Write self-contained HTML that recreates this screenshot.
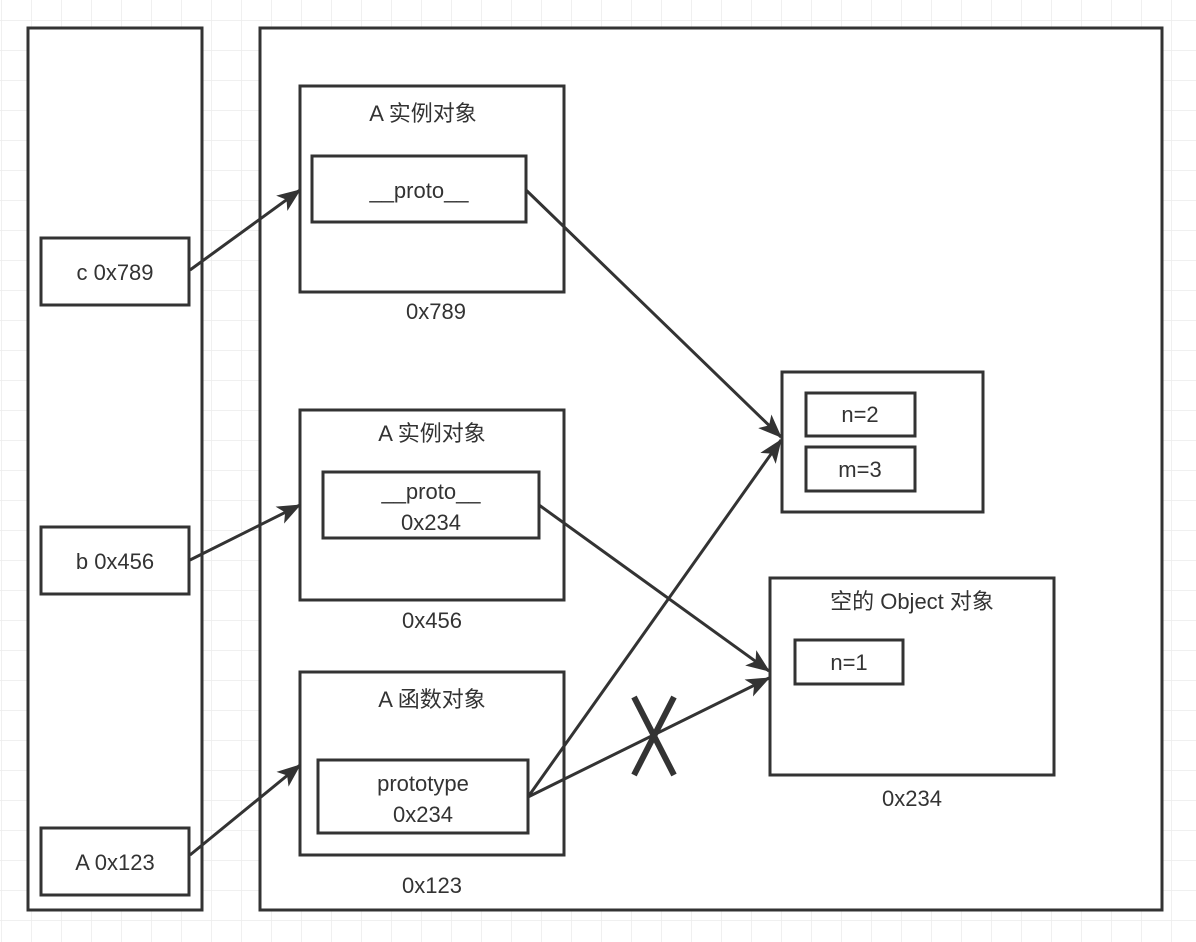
<!DOCTYPE html>
<html><head><meta charset="utf-8"><style>
html,body{margin:0;padding:0;background:#fff;}
svg{display:block;}
text{font-family:"Liberation Sans","Noto Sans CJK SC",sans-serif;font-size:22px;fill:#333;text-anchor:middle;}
</style></head><body>
<svg width="1196" height="942" viewBox="0 0 1196 942" xmlns="http://www.w3.org/2000/svg">
<defs>
<pattern id="g" x="1" y="20" width="30" height="30" patternUnits="userSpaceOnUse">
<path d="M0 0H30M0 0V30" stroke="#ececec" stroke-width="1.5" fill="none"/>
</pattern>
<marker id="a" markerWidth="10" markerHeight="10" refX="9" refY="5" orient="auto" markerUnits="userSpaceOnUse" viewBox="0 0 10 10">
</marker>
<marker id="ar" viewBox="0 0 20 16" refX="19" refY="8" markerWidth="24" markerHeight="19" orient="auto" markerUnits="userSpaceOnUse">
<path d="M0 0L20 8L0 16L5 8Z" fill="#333"/>
</marker>
</defs>
<rect width="1196" height="942" fill="#fff"/>
<rect width="1196" height="942" fill="url(#g)"/>
<g fill="#fff" stroke="#333" stroke-width="3">
<rect x="28" y="28" width="174" height="882"/>
<rect x="260" y="28" width="902" height="882"/>
<rect x="41" y="238" width="148" height="67"/>
<rect x="41" y="527" width="148" height="67"/>
<rect x="41" y="828" width="148" height="67"/>
<rect x="300" y="86" width="264" height="206"/>
<rect x="312" y="156" width="214" height="66"/>
<rect x="300" y="410" width="264" height="190"/>
<rect x="323" y="472" width="216" height="66"/>
<rect x="300" y="672" width="264" height="183"/>
<rect x="318" y="760" width="210" height="73"/>
<rect x="782" y="372" width="201" height="140"/>
<rect x="806" y="393" width="109" height="43"/>
<rect x="806" y="447" width="109" height="44"/>
<rect x="770" y="578" width="284" height="197"/>
<rect x="795" y="640" width="108" height="44"/>
</g>
<g stroke="#333" stroke-width="3" fill="none" marker-end="url(#ar)">
<line x1="190" y1="270" x2="300" y2="190"/>
<line x1="190" y1="560" x2="300" y2="505"/>
<line x1="190" y1="855" x2="300" y2="765"/>
<line x1="526" y1="190" x2="781" y2="437"/>
<line x1="539" y1="505" x2="769" y2="671"/>
<line x1="528" y1="797" x2="781" y2="440"/>
<line x1="528" y1="797" x2="769" y2="678"/>
</g>
<g stroke="#333" stroke-width="6">
<line x1="634" y1="697" x2="674" y2="775"/>
<line x1="674" y1="697" x2="634" y2="775"/>
</g>
<text x="115" y="280">c 0x789</text>
<text x="115" y="569">b 0x456</text>
<text x="115" y="870">A 0x123</text>
<text x="423" y="121">A 实例对象</text>
<text x="419" y="198">__proto__</text>
<text x="436" y="319">0x789</text>
<text x="432" y="441">A 实例对象</text>
<text x="431" y="499">__proto__</text>
<text x="431" y="530">0x234</text>
<text x="432" y="628">0x456</text>
<text x="432" y="707">A 函数对象</text>
<text x="423" y="791">prototype</text>
<text x="423" y="822">0x234</text>
<text x="432" y="893">0x123</text>
<text x="860" y="422">n=2</text>
<text x="860" y="477">m=3</text>
<text x="912" y="609">空的 Object 对象</text>
<text x="849" y="670">n=1</text>
<text x="912" y="806">0x234</text>
</svg>
</body></html>
